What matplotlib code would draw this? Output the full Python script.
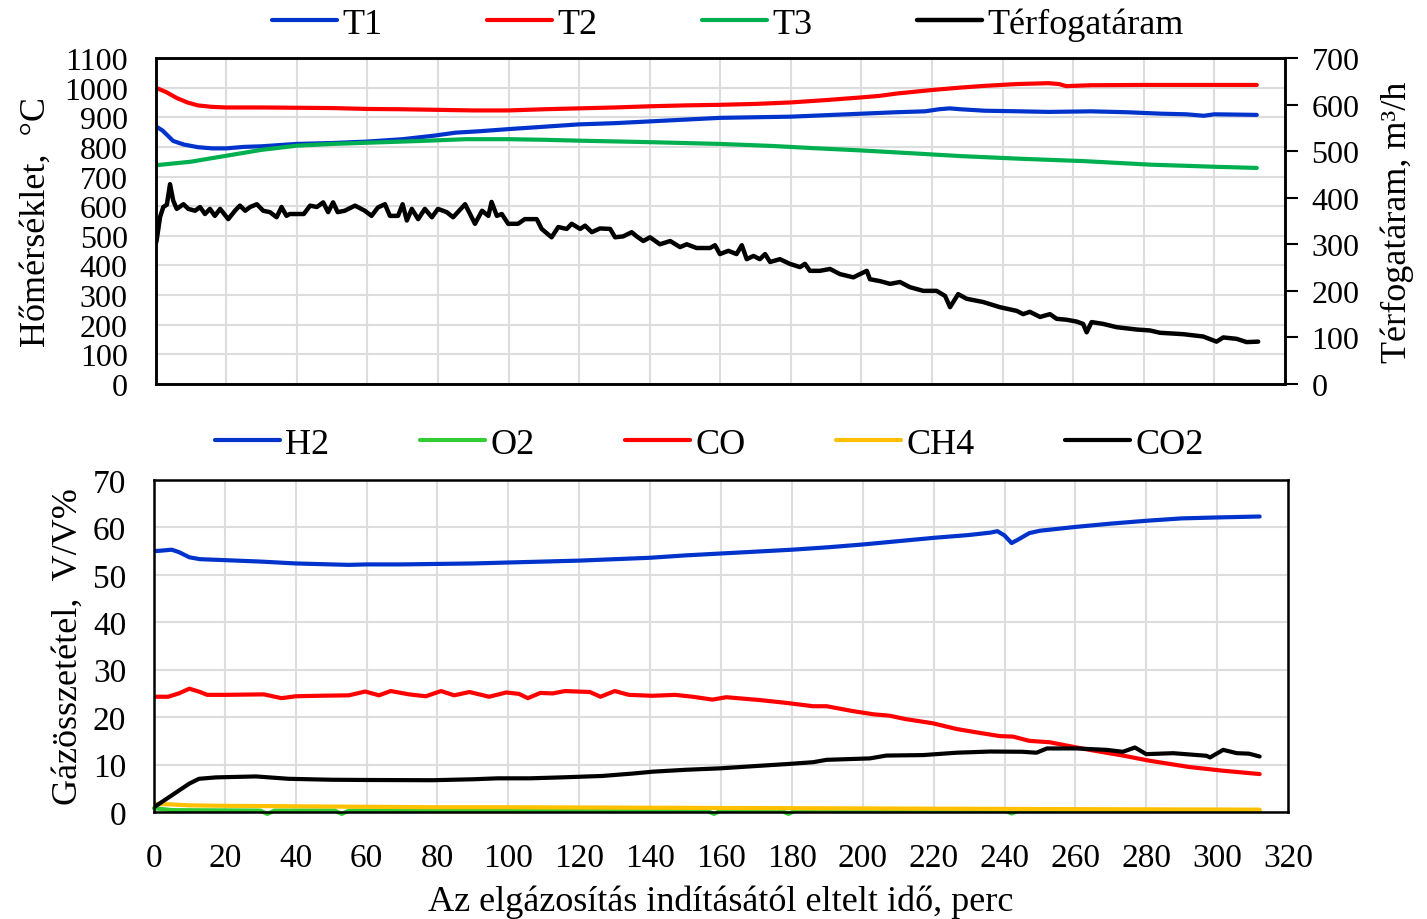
import matplotlib
matplotlib.use("Agg")
import matplotlib.pyplot as plt
from matplotlib.ticker import MultipleLocator

plt.rcParams['font.family'] = ['Liberation Serif', 'DejaVu Serif']

# ---------------- data: top panel ----------------
t_T1 = [0, 2, 5, 8, 12, 16, 20, 25, 30, 35, 40, 50, 60, 70, 79, 85, 92, 100, 110, 120, 130, 140, 150,
        160, 170, 180, 190, 200, 210, 218, 222, 225, 228, 235, 245, 253, 265, 275, 285, 292, 297, 300, 312]
T1 = [870, 855, 820, 808, 799, 795, 795, 800, 802, 806, 810, 813, 818, 826, 838, 848, 853, 860, 868, 876, 880,
      886, 892, 898, 900, 902, 907, 912, 917, 920, 927, 930, 927, 922, 920, 918, 920, 917, 912, 910, 905, 910, 908]

t_T2 = [0, 3, 6, 9, 12, 16, 20, 30, 40, 50, 60, 70, 80, 90, 100, 110, 120, 130, 140, 150, 160, 170, 180,
        190, 200, 205, 210, 220, 228, 235, 244, 253, 256, 258, 265, 280, 300, 312]
T2 = [1000, 985, 965, 950, 940, 935, 933, 933, 932, 931, 928, 927, 925, 923, 923, 927, 930, 933, 937, 940,
      942, 945, 950, 958, 967, 972, 980, 992, 1000, 1006, 1012, 1015, 1012, 1005, 1008, 1009, 1009, 1009]

t_T3 = [0, 10, 20, 30, 40, 50, 60, 75, 88, 100, 110, 120, 140, 160, 175, 186, 200, 215, 228, 245, 263, 282, 300, 312]
T3 = [738, 750, 770, 790, 804, 810, 814, 820, 826, 826, 824, 821, 816, 810, 803, 796, 788, 778, 769, 760, 752, 740, 733, 729]

t_Q = [0, 0.3, 1.3, 2.2, 3.2, 4.1, 5, 6, 7.9, 9.3, 11.2, 12.6, 14, 15.4, 16.8, 18.3, 20.6, 22.5, 23.9, 25.4,
       26.8, 28.7, 30.5, 32.4, 34.3, 35.7, 37.1, 38, 42, 43.8, 45.7, 47.5, 48.9, 50.3, 51.6, 53.6, 56.5, 59.3,
       61.2, 63, 65, 66.4, 68.7, 70, 71.2, 72.6, 74.4, 76.3, 78.3, 80, 82.5, 84.3, 87.7, 90.5, 92.5, 94.3, 95.2,
       96.7, 98.1, 99.9, 102.7, 104.6, 108, 109.4, 112.2, 114.1, 116.5, 117.9, 120.3, 121.7, 123.6, 125.9,
       128.8, 130.2, 132.5, 134.9, 136.3, 138.2, 140.1, 142.9, 145.8, 148.6, 150.5, 153.3, 157.1, 158.5, 159.9,
       162.3, 164.6, 166.1, 167.5, 169.4, 171.2, 172.7, 174.1, 176.9, 179.7, 182.6, 184, 185.4, 188.2, 191.1,
       193.9, 197.7, 201.5, 202.4, 205.2, 208.1, 210.9, 213.7, 217.5, 221.3, 223.7, 225.1, 227.4, 229.8, 234.5,
       239.2, 244, 245.8, 247.7, 250.6, 253.4, 255.3, 258.1, 261, 262.8, 263.8, 265.2, 268.5, 272.3, 278, 281.7,
       284.6, 291.2, 296.8, 300.6, 302.5, 306.3, 309.1, 312.4]
Q = [300, 308, 359, 380, 385, 429, 394, 376, 386, 376, 372, 380, 365, 376, 361, 376, 354, 372, 383, 372,
     380, 386, 372, 369, 358, 380, 361, 365, 365, 383, 380, 390, 369, 390, 369, 372, 383, 372,
     361, 379, 386, 361, 361, 386, 351, 376, 354, 376, 358, 376, 369, 358, 386, 344, 372, 361, 391,
     361, 365, 344, 344, 354, 354, 333, 315, 337, 333, 344, 333, 340, 326, 334,
     333, 315, 317, 326, 317, 307, 315, 300, 307, 294, 300, 292, 292, 298, 279,
     286, 279, 298, 268, 275, 268, 279, 262, 268, 258, 251, 258, 243, 243, 247,
     236, 229, 243, 225, 221, 215, 219, 208, 200, 200, 189, 165, 193, 183, 176,
     165, 157, 150, 155, 144, 150, 140, 138, 134, 129, 111, 133, 129, 122, 117, 115,
     110, 107, 102, 91, 100, 97, 90, 91]

# ---------------- data: bottom panel ----------------
t_H2 = [0, 2, 5, 7, 10, 13, 20, 30, 40, 50, 55, 60, 70, 80, 90, 100, 110, 120, 130, 140, 150, 160, 170, 180,
        190, 200, 210, 220, 230, 236, 238, 240, 242, 244, 247, 250, 260, 270, 280, 290, 300, 312]
H2 = [55.0, 55.1, 55.3, 54.8, 53.7, 53.3, 53.1, 52.8, 52.4, 52.2, 52.1, 52.2, 52.2, 52.3, 52.4, 52.6, 52.8,
      53.0, 53.3, 53.6, 54.1, 54.5, 54.9, 55.3, 55.8, 56.4, 57.1, 57.8, 58.4, 58.9, 59.2, 58.3, 56.7, 57.5,
      58.8, 59.3, 60.1, 60.8, 61.4, 61.9, 62.1, 62.3]

t_O2 = [0, 5, 30, 32, 34, 51, 53, 55, 156, 158, 160, 177, 179, 181, 240, 242, 244, 312]
O2 = [0.8, 0.4, 0.3, -0.4, 0.3, 0.3, -0.4, 0.3, 0.3, -0.4, 0.3, 0.3, -0.4, 0.3, 0.3, -0.3, 0.3, 0.2]

t_CO = [0, 4, 7, 10, 13, 15, 20, 31, 36, 40, 46, 55, 59.6, 63.5, 66.8, 72, 76.7, 81, 84.7, 89, 94.6, 99.4,
        103, 105.5, 109, 112.5, 116, 123, 126, 130, 134, 140.7, 147, 152, 157.6, 161.5, 171, 178.5, 186,
        189.8, 197, 203, 207.6, 212, 219.8, 226.5, 232, 238.7, 242.4, 247, 252.8, 257.6, 264, 273.4, 281,
        292, 301.7, 312]
CO = [24.3, 24.3, 25.0, 26.0, 25.3, 24.7, 24.7, 24.8, 24.0, 24.4, 24.5, 24.6, 25.4, 24.6, 25.5, 24.8, 24.4,
      25.5, 24.6, 25.3, 24.3, 25.2, 24.9, 24.0, 25.1, 25.0, 25.5, 25.3, 24.3, 25.5, 24.7, 24.5, 24.7, 24.3,
      23.7, 24.2, 23.6, 23.0, 22.3, 22.3, 21.3, 20.6, 20.3, 19.6, 18.7, 17.5, 16.8, 16.0, 15.9, 15.0, 14.7,
      14.0, 13.1, 11.9, 10.8, 9.5, 8.7, 8.0]

t_CH4 = [0, 5, 10, 20, 40, 60, 80, 100, 140, 180, 220, 260, 312]
CH4 = [1.7, 1.6, 1.4, 1.3, 1.2, 1.1, 1.0, 1.0, 0.9, 0.8, 0.7, 0.6, 0.5]

t_CO2 = [0, 3, 7, 10, 12.7, 17.5, 28.8, 38, 50, 60, 78.5, 90, 97, 106, 115, 126.5, 135, 140.7, 150, 159.6,
         170, 178.5, 186, 189.8, 202, 206.7, 217, 226.5, 236, 245, 249, 252, 260.4, 268.8, 273.4, 276.8,
         280, 287.6, 297, 298, 301.7, 305.6, 309, 312]
CO2 = [1.0, 2.5, 4.5, 6.0, 7.0, 7.3, 7.5, 7.0, 6.8, 6.75, 6.7, 6.9, 7.1, 7.1, 7.3, 7.6, 8.1, 8.5, 8.9, 9.2,
       9.7, 10.1, 10.5, 11.0, 11.3, 11.9, 12.0, 12.5, 12.75, 12.7, 12.5, 13.4, 13.4, 13.1, 12.7, 13.6,
       12.2, 12.4, 11.85, 11.5, 13.1, 12.4, 12.3, 11.7]

# ---------------- figure ----------------
fig = plt.figure(figsize=(14.27, 9.2), dpi=100)
ax1 = fig.add_axes([0.1090, 0.5815, 0.9005 - 0.1090, 0.9359 - 0.5815])
ax2 = fig.add_axes([0.1079, 0.1163, 0.9026 - 0.1079, 0.4772 - 0.1163])

grid_c = '#DDDDDD'
blue = '#0033CC'
red = '#FF0000'
green_t = '#00B050'
green_o = '#33CC33'
yellow = '#FFC000'
lw = 3.0

# top panel
l1, = ax1.plot(t_T1, T1, color=blue, lw=lw, label='T1', solid_capstyle='round')
l2, = ax1.plot(t_T2, T2, color=red, lw=lw, label='T2', solid_capstyle='round')
l3, = ax1.plot(t_T3, T3, color=green_t, lw=lw, label='T3', solid_capstyle='round')
ax1r = ax1.twinx()
l4, = ax1r.plot(t_Q, Q, color='black', lw=3.2, label='Térfogatáram', solid_capstyle='round')

ax1.set_xlim(0, 320)
ax1.set_ylim(0, 1100)
ax1r.set_ylim(0, 700)
ax1.xaxis.set_major_locator(MultipleLocator(20))
ax1.yaxis.set_major_locator(MultipleLocator(100))
ax1r.yaxis.set_major_locator(MultipleLocator(100))
ax1.grid(True, color=grid_c, lw=1.5)
ax1.set_axisbelow(True)
ax1.tick_params(axis='x', length=0, labelbottom=False)
ax1.tick_params(axis='y', length=0, pad=20, labelsize=23)
ax1r.tick_params(axis='y', length=9, width=1.5, direction='out', pad=10, labelsize=23)
for ax in (ax1, ax1r):
    for s in ax.spines.values():
        s.set_linewidth(1.8)
ax1.set_ylabel('Hőmérséklet,  °C', fontsize=26, labelpad=8)
ax1r.set_ylabel('Térfogatáram, m³/h', fontsize=26, labelpad=15)

fig.legend(handles=[l1, l2, l3, l4], loc='center', bbox_to_anchor=(0.510, 0.973), ncol=4,
           frameon=False, fontsize=26, handlelength=1.8, handletextpad=0.15, columnspacing=2.9,
           borderaxespad=0)

# bottom panel
b1, = ax2.plot(t_H2, H2, color=blue, lw=lw, label='H2', solid_capstyle='round')
b2, = ax2.plot(t_O2, O2, color=green_o, lw=lw, label='O2', clip_on=False, solid_capstyle='round')
b3, = ax2.plot(t_CO, CO, color=red, lw=lw, label='CO', solid_capstyle='round')
b4, = ax2.plot(t_CH4, CH4, color=yellow, lw=lw, label='CH4', solid_capstyle='round')
b5, = ax2.plot(t_CO2, CO2, color='black', lw=lw, label='CO2', solid_capstyle='round')

ax2.set_xlim(0, 320)
ax2.set_ylim(0, 70)
ax2.xaxis.set_major_locator(MultipleLocator(20))
ax2.yaxis.set_major_locator(MultipleLocator(10))
ax2.grid(True, color=grid_c, lw=1.5)
ax2.set_axisbelow(True)
ax2.tick_params(axis='x', length=0, pad=22, labelsize=24)
ax2.tick_params(axis='y', length=0, pad=20, labelsize=24)
for s in ax2.spines.values():
    s.set_linewidth(1.8)
ax2.set_ylabel('Gázösszetétel,  V/V%', fontsize=26, labelpad=6)
ax2.set_xlabel('Az elgázosítás indításától eltelt idő, perc', fontsize=26, labelpad=8)

fig.legend(handles=[b1, b2, b3, b4, b5], loc='center', bbox_to_anchor=(0.497, 0.516), ncol=5,
           frameon=False, fontsize=26, handlelength=1.8, handletextpad=0.15, columnspacing=2.5,
           borderaxespad=0)

fig.savefig('out.png', dpi=100)
